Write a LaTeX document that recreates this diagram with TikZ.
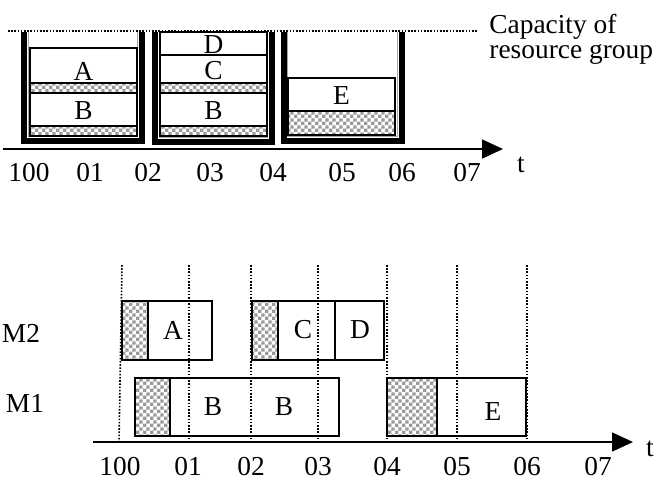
\documentclass[tikz,border=0pt]{standalone}
\usepackage{fontspec}
\setmainfont{Liberation Serif}
\usepackage{tikz}
\usetikzlibrary{arrows.meta,patterns}

\pgfdeclarepatternformonly{finechecker}{\pgfqpoint{0pt}{0pt}}{\pgfqpoint{3.6pt}{3.6pt}}{\pgfqpoint{3.6pt}{3.6pt}}{
  \pgfpathrectangle{\pgfqpoint{0pt}{0pt}}{\pgfqpoint{1.8pt}{1.8pt}}
  \pgfpathrectangle{\pgfqpoint{1.8pt}{1.8pt}}{\pgfqpoint{1.8pt}{1.8pt}}
  \pgfusepath{fill}}

\begin{document}
\begin{tikzpicture}[x=0.5pt,y=-0.5pt,
  wall/.style={line width=3pt,line join=miter},
  liner/.style={gray!70,line width=0.5pt},
  job/.style={draw,fill=white,line width=0.9pt},
  setup/.style={draw,line width=0.9pt,pattern=finechecker,pattern color=gray!80},
  guide/.style={dash pattern=on 0.8pt off 0.8pt,line width=0.8pt},
  axis/.style={line width=0.8pt,-{Triangle[length=10.5pt,width=9.5pt]}},
  lbl/.style={inner sep=0pt,font=\fontsize{13.7}{16}\selectfont}]
\useasboundingbox (0,0) rectangle (658,484);
% resource group over time
\begin{scope}
\draw[guide] (8,31) -- (478,31);
\node[lbl,anchor=base west] (cap1) at (489,33) {Capacity of};
\node[lbl,anchor=base west] (cap2) at (489,58) {resource group};
% bin 1
\draw[wall] (24,32) |- (142,140.5) -- (142,32);
\draw[liner] (28.5,32) |- (137.5,136.5) -- (137.5,32);
\draw[job] (30,48) rectangle (137,83);
\draw[setup] (30,83) rectangle (137,93);
\draw[job] (30,93) rectangle (137,126);
\draw[setup] (30,126) rectangle (137,136);
\node[lbl] (tA) at (83.5,71) {A};
\node[lbl] (tB1) at (83.5,111) {B};
% bin 2
\draw[wall] (154.5,32) |- (272,141.5) -- (272,32);
\draw[liner] (159,32) |- (267.5,137) -- (267.5,32);
\draw[job] (160,32) rectangle (267,55);
\draw[job] (160,55) rectangle (267,83);
\draw[setup] (160,83) rectangle (267,93);
\draw[job] (160,93) rectangle (267,126);
\draw[setup] (160,126) rectangle (267,136);
\node[lbl] (tD) at (213.5,45) {D};
\node[lbl] (tC) at (213.5,71) {C};
\node[lbl] (tB2) at (213.5,111) {B};
% bin 3
\draw[wall] (283.5,32) |- (401.5,140.5) -- (401.5,32);
\draw[liner] (287.5,32) |- (397,136.5) -- (397,32);
\draw[job] (288,78) rectangle (395,111);
\draw[setup] (288,111) rectangle (395,135);
\node[lbl] (tE) at (341.5,96) {E};
% time axis
\coordinate (o1) at (3,149);
\coordinate (e1) at (503,149);
\draw[axis] (o1) -- (e1);
\node[lbl] (a100) at (29,173) {100};
\node[lbl] (a01) at (90,173) {01};
\node[lbl] (a02) at (148,173) {02};
\node[lbl] (a03) at (210,173) {03};
\node[lbl] (a04) at (273,173) {04};
\node[lbl] (a05) at (342,173) {05};
\node[lbl] (a06) at (402,173) {06};
\node[lbl] (a07) at (467,173) {07};
\node[lbl] (at) at (521,165) {t};
\end{scope}
% machine schedule
\begin{scope}
\draw[guide] (122,265) -- (119,442);
\draw[guide] (189,265) -- (189,442);
\draw[guide] (251,265) -- (251,442);
\draw[guide] (318,265) -- (318,442);
\draw[guide] (387,265) -- (387,442);
\draw[guide] (457,265) -- (457,442);
\draw[guide] (527,265) -- (527,442);
\node[lbl] (m2) at (21,333) {M2};
\node[lbl] (m1) at (25,403) {M1};
% M2
\draw[setup] (122,301) rectangle (148,360);
\draw[job,fill=none] (148,301) rectangle (212,360);
\draw[setup] (252,301) rectangle (278,360);
\draw[job,fill=none] (278,301) rectangle (335,360);
\draw[job,fill=none] (335,301) rectangle (384,360);
\node[lbl] (jA) at (173,330) {A};
\node[lbl] (jC) at (303,330) {C};
\node[lbl] (jD) at (360,330) {D};
% M1
\draw[setup] (135,378) rectangle (170,436);
\draw[job,fill=none] (170,378) rectangle (339,436);
\draw[setup] (387,378) rectangle (437,436);
\draw[job,fill=none] (437,378) rectangle (526,436);
\node[lbl] (jB1) at (213,407) {B};
\node[lbl] (jB2) at (284,407) {B};
\node[lbl] (jE) at (493,412) {E};
% time axis
\coordinate (o2) at (93,442);
\coordinate (e2) at (633,442);
\draw[axis] (o2) -- (e2);
\node[lbl] (b100) at (120,467) {100};
\node[lbl] (b01) at (188,467) {01};
\node[lbl] (b02) at (251,467) {02};
\node[lbl] (b03) at (318,467) {03};
\node[lbl] (b04) at (387,467) {04};
\node[lbl] (b05) at (457,467) {05};
\node[lbl] (b06) at (527,467) {06};
\node[lbl] (b07) at (598,467) {07};
\node[lbl] (bt) at (650,449) {t};
\end{scope}
\end{tikzpicture}
\end{document}
